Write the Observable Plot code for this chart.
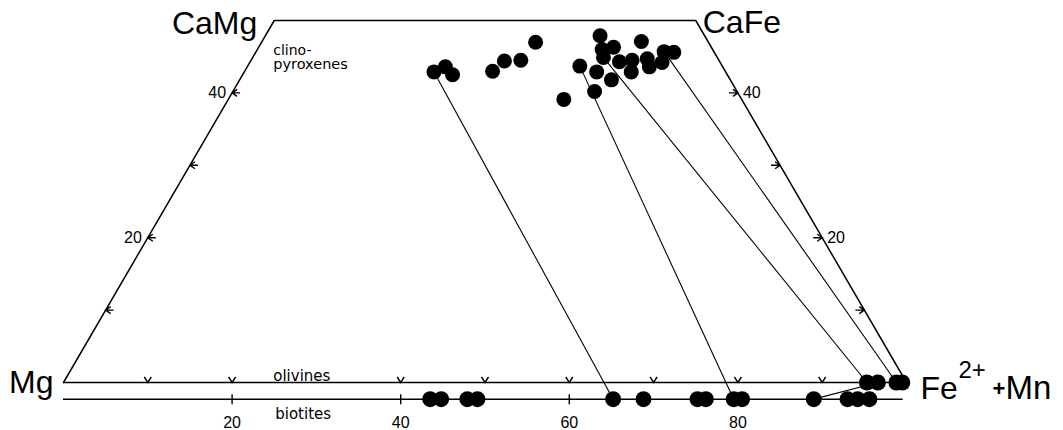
<!DOCTYPE html>
<html><head><meta charset="utf-8">
<script src="https://cdn.jsdelivr.net/npm/d3@7"></script>
<script src="https://cdn.jsdelivr.net/npm/@observablehq/plot@0.6"></script>
<style>body{margin:0;background:#fff} #chart svg{overflow:visible}</style>
</head><body><div id="chart"></div>
<script>
// Clinopyroxene compositions (Fs %, Wo %)
const cpxFs = [22.5, 23.5, 24.9, 29.4, 30.1, 32.0, 32.5, 39.8, 39.4, 42.9, 41.8, 39.7, 40.9,
               41.6, 44.1, 42.1, 43.8, 45.9, 45.2, 45.0, 46.9, 47.7, 48.9, 48.4, 49.6];
const cpxWo = [42.9, 43.6, 42.5, 43.0, 44.4, 44.5, 47.0, 39.1, 43.7, 40.2, 42.9, 47.9, 46.0,
               44.9, 41.8, 46.3, 44.3, 42.9, 44.5, 47.1, 44.7, 43.6, 44.2, 45.7, 45.6];
// Olivine and biotite Fe2+ + Mn (%)
const olivineFe = [95.3, 96.6, 98.8, 99.5];
const biotiteFe = [43.5, 44.8, 47.9, 49.1, 65.2, 68.8, 75.2, 76.2, 79.5, 80.5, 89.0, 93.0, 94.2, 95.6];
// Tie lines: clinopyroxene index -> mineral / index
const tieFrom = [0, 8, 13, 23];
const tieToMineral = ["biotite", "biotite", "olivine", "olivine"];
const tieToIndex = [4, 8, 0, 2];
// Tie line biotite -> olivine
const btOlFrom = [10];
const btOlTo = [1];
// Ticks and labels
const edgeTicks = [10, 20, 30, 40];
const edgeLabels = [20, 40];
const olivineTicks = [10, 20, 40, 50, 60, 70, 80, 90];
const biotiteTicks = [20, 40, 60, 80];
const biotiteLabels = [20, 40, 60, 80];

const BT = -2.3; // biotite row (below the olivine base line)
const tx = d => d.fs + d.wo / 2;

const cpx = cpxFs.map((fs, i) => ({fs, wo: cpxWo[i]}));
const ol = olivineFe.map(fe => ({x: fe, y: 0}));
const bt = biotiteFe.map(fe => ({x: fe, y: BT}));
const ties = tieFrom.map((ci, k) => {
  const c = cpx[ci];
  const t = tieToMineral[k] === "biotite" ? bt[tieToIndex[k]] : ol[tieToIndex[k]];
  return {x1: tx(c), y1: c.wo, x2: t.x, y2: t.y};
});
const ties2 = btOlFrom.map((bi, k) => ({x1: bt[bi].x, y1: bt[bi].y, x2: ol[btOlTo[k]].x, y2: ol[btOlTo[k]].y}));

const corners = [{fs: 0, wo: 0}, {fs: 0, wo: 50}, {fs: 50, wo: 50}, {fs: 100, wo: 0}];

const leftTick = {draw(c) { c.moveTo(5, -3.5); c.lineTo(0, 0); c.lineTo(5, 3.5); c.moveTo(0, 0); c.lineTo(8, 0); }};
const rightTick = {draw(c) { c.moveTo(-5, -3.5); c.lineTo(0, 0); c.lineTo(-5, 3.5); c.moveTo(0, 0); c.lineTo(-9, 0); }};
const vTick = {draw(c) { c.moveTo(-3.5, -5.5); c.lineTo(0, 0); c.lineTo(3.5, -5.5); }};
const plusTick = {draw(c) { c.moveTo(0, -5); c.lineTo(0, 5); }};

const big = "Liberation Sans, Arial, Helvetica, sans-serif";
const small = "DejaVu Sans, sans-serif";

const chart = Plot.plot({
  width: 1063, height: 430,
  marginLeft: 63, marginRight: 157, marginTop: 20, marginBottom: 48,
  x: {domain: [0, 100], axis: null},
  y: {domain: [0, 50], axis: null},
  style: {fontFamily: big, background: "white", color: "black"},
  marks: [
    // quadrilateral
    Plot.line(corners, {x: tx, y: "wo", stroke: "black", strokeWidth: 1.5}),
    Plot.ruleY([0], {x1: 0, x2: 100, stroke: "black", strokeWidth: 1.5}),
    Plot.ruleY([BT], {x1: 0, x2: 99.6, stroke: "black", strokeWidth: 1.5}),
    // edge ticks
    Plot.dot(edgeTicks, {x: d => d / 2, y: d => d, symbol: leftTick, stroke: "black", strokeWidth: 1.4, fill: "none"}),
    Plot.dot(edgeTicks, {x: d => 100 - d / 2, y: d => d, symbol: rightTick, stroke: "black", strokeWidth: 1.4, fill: "none"}),
    Plot.dot(olivineTicks, {x: d => d, y: () => 0, symbol: vTick, stroke: "black", strokeWidth: 1.4, fill: "none"}),
    Plot.dot(biotiteTicks, {x: d => d, y: () => BT, symbol: plusTick, stroke: "black", strokeWidth: 1.4, fill: "none"}),
    Plot.text(edgeLabels, {x: d => d / 2, y: d => d, text: d => String(d), textAnchor: "end", lineAnchor: "middle", dx: -6, fontSize: 16}),
    Plot.text(edgeLabels, {x: d => 100 - d / 2, y: d => d, text: d => String(d), textAnchor: "start", lineAnchor: "middle", dx: 5, fontSize: 16}),
    Plot.text(biotiteLabels, {x: d => d, y: () => BT, text: d => String(d), textAnchor: "middle", lineAnchor: "top", dy: 17, fontSize: 16}),
    // tie lines
    Plot.link(ties, {x1: "x1", y1: "y1", x2: "x2", y2: "y2", stroke: "black", strokeWidth: 1.1}),
    Plot.link(ties2, {x1: "x1", y1: "y1", x2: "x2", y2: "y2", stroke: "black", strokeWidth: 1.1}),
    // mineral points
    Plot.dot(cpx, {x: tx, y: "wo", r: 7.5, fill: "black"}),
    Plot.dot(ol, {x: "x", y: "y", r: 8, fill: "black"}),
    Plot.dot(bt, {x: "x", y: "y", r: 8, fill: "black"}),
    // labels
    Plot.text([corners[1]], {x: tx, y: "wo", text: () => "CaMg", textAnchor: "end", lineAnchor: "bottom", dx: -17, dy: 13, fontSize: 32}),
    Plot.text([corners[2]], {x: tx, y: "wo", text: () => "CaFe", textAnchor: "start", lineAnchor: "bottom", dx: 7, dy: 12, fontSize: 32}),
    Plot.text([corners[0]], {x: tx, y: "wo", text: () => "Mg", textAnchor: "end", lineAnchor: "bottom", dx: -10, dy: 10, fontSize: 32}),
    Plot.text([corners[3]], {x: tx, y: "wo", text: () => "Fe", textAnchor: "start", lineAnchor: "bottom", dx: 14, dy: 16, fontSize: 32}),
    Plot.text([corners[3]], {x: tx, y: "wo", text: () => "2+", textAnchor: "start", lineAnchor: "bottom", dx: 52, dy: -5, fontSize: 24}),
    Plot.text([corners[3]], {x: tx, y: "wo", text: () => "+", textAnchor: "start", lineAnchor: "bottom", dx: 86, dy: 13, fontSize: 22, fontWeight: "bold"}),
    Plot.text([corners[3]], {x: tx, y: "wo", text: () => "Mn", textAnchor: "start", lineAnchor: "bottom", dx: 99, dy: 16, fontSize: 33}),
    Plot.text([corners[1]], {x: tx, y: "wo", text: () => "clino-", textAnchor: "start", lineAnchor: "bottom", dx: -1, dy: 34, fontSize: 14, fontFamily: small}),
    Plot.text([corners[1]], {x: tx, y: "wo", text: () => "pyroxenes", textAnchor: "start", lineAnchor: "bottom", dx: -1, dy: 48, fontSize: 14.5, fontFamily: small}),
    Plot.text([{x: 25, y: 0}], {x: "x", y: "y", text: () => "olivines", textAnchor: "start", lineAnchor: "bottom", dx: -1, dy: -1.5, fontSize: 15, fontFamily: small}),
    Plot.text([{x: 25, y: BT}], {x: "x", y: "y", text: () => "biotites", textAnchor: "start", lineAnchor: "bottom", dx: 1, dy: 19.7, fontSize: 15, fontFamily: small})
  ]
});
document.getElementById("chart").appendChild(chart);
</script>
</body></html>
